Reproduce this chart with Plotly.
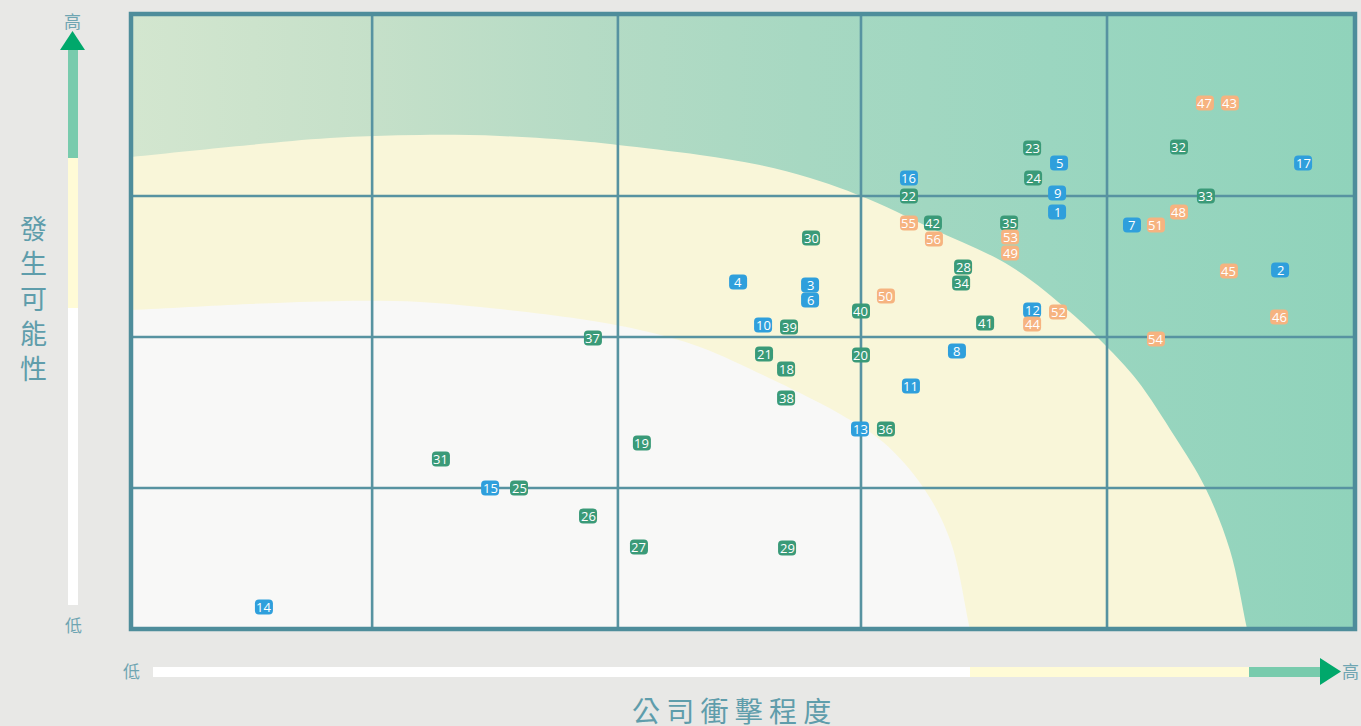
import plotly.graph_objects as go

# ---------------- data (impact x, likelihood y) ----------------
blue_ids = [1, 2, 3, 4, 5, 6, 7, 8, 9, 10, 11, 12, 13, 14, 15, 16, 17]
blue_x = [3.783, 4.694, 2.774, 2.480, 3.791, 2.774, 4.089, 3.374, 3.783, 2.582,
          3.186, 3.681, 2.978, 0.543, 1.467, 3.178, 4.788]
blue_y = [2.882, 2.481, 2.377, 2.398, 3.220, 2.274, 2.792, 1.921, 3.013, 2.101,
          1.679, 2.205, 1.382, 0.152, 0.974, 3.117, 3.220]

green_ids = [18, 19, 20, 21, 22, 23, 24, 25, 26, 27, 28, 29, 30, 31, 32, 33, 34,
             35, 36, 37, 38, 39, 40, 41, 42]
green_x = [2.676, 2.087, 2.982, 2.586, 3.178, 3.681, 3.685, 1.585, 1.867, 2.075,
           3.399, 2.680, 2.778, 1.266, 4.281, 4.391, 3.391, 3.587, 3.084, 1.887,
           2.676, 2.688, 2.982, 3.489, 3.276]
green_y = [1.797, 1.285, 1.894, 1.900, 2.992, 3.324, 3.117, 0.974, 0.781, 0.567,
           2.502, 0.560, 2.702, 1.175, 3.331, 2.992, 2.391, 2.806, 1.382, 2.011,
           1.596, 2.087, 2.198, 2.115, 2.806]

orange_ids = [43, 44, 45, 46, 47, 48, 49, 50, 51, 52, 53, 54, 55, 56]
orange_x = [4.489, 3.681, 4.485, 4.690, 4.387, 4.281, 3.591, 3.084, 4.187, 3.787,
            3.591, 4.187, 3.178, 3.280]
orange_y = [3.635, 2.108, 2.474, 2.156, 3.635, 2.882, 2.598, 2.301, 2.792, 2.191,
            2.709, 2.004, 2.806, 2.695]

# grid positions
grid_x = [0.985, 1.989, 2.982, 3.987]
grid_y = [0.974, 2.018, 2.992]
X_MAX, Y_MAX = 5.0, 4.25

# zone boundaries (decoration)
green_bx = [-0.25, 0.0, 0.486, 0.813, 1.181, 1.507, 1.834, 1.989, 2.324, 2.569, 2.774,
            2.982, 3.276, 3.591, 3.836, 3.979, 4.109, 4.265, 4.387, 4.489, 4.559, 4.597]
green_by = [3.219, 3.262, 3.345, 3.393, 3.414, 3.407, 3.372, 3.345, 3.276, 3.207, 3.117,
            2.992, 2.764, 2.509, 2.191, 1.963, 1.721, 1.327, 0.981, 0.546, 0.0, -0.3]
white_bx = [-0.25, 0.0, 0.486, 0.866, 1.181, 1.426, 1.834, 2.079, 2.324, 2.598, 2.733,
            2.896, 3.072, 3.235, 3.346, 3.427, 3.467]
white_by = [2.195, 2.205, 2.246, 2.267, 2.260, 2.225, 2.142, 2.066, 1.949, 1.742, 1.631,
            1.486, 1.292, 0.981, 0.615, 0.0, -0.3]

COL_BLUE = "#2f9fdc"
COL_GREEN = "#3a9a78"
COL_ORANGE = "#f6b380"
GRID = "#5793a1"
BORDER = "#4e8d9b"
TXT = "#5f9dab"

W, H = 1361, 726
L, R, T, B = 131, 6, 14, 97
PW, PH = W - L - R, H - T - B
xpp = X_MAX / PW
ypp = Y_MAX / PH


def px(xp):
    return (xp - L) / PW


def py(yp):
    return (H - B - yp) / PH


fig = go.Figure()

# green zone with gradient
gx = green_bx + [6.0, 6.0, -1.0, -1.0]
gy = green_by + [-1.0, 5.5, 5.5, 3.2]
fig.add_trace(go.Scatter(
    x=gx, y=gy, mode="lines", fill="toself",
    line=dict(width=0, shape="spline", smoothing=1),
    fillgradient=dict(type="horizontal", start=0, stop=X_MAX,
                      colorscale=[[0, "#d3e6cf"], [0.2, "#c5e0c9"], [0.37, "#b5dbc5"],
                                  [0.55, "#a7d8c2"], [0.75, "#9bd6c0"], [1, "#90d3bb"]]),
    hoverinfo="skip", showlegend=False))

# white zone
wx = white_bx + [-1.0, -1.0]
wy = white_by + [-1.0, 2.19]
fig.add_trace(go.Scatter(
    x=wx, y=wy, mode="lines", fill="toself", fillcolor="#f8f8f7",
    line=dict(width=0, shape="spline", smoothing=1),
    hoverinfo="skip", showlegend=False))

# grid lines
lx, ly = [], []
for g in grid_x:
    lx += [g, g, None]
    ly += [0, Y_MAX, None]
for g in grid_y:
    lx += [0, X_MAX, None]
    ly += [g, g, None]
fig.add_trace(go.Scatter(x=lx, y=ly, mode="lines", line=dict(color=GRID, width=2.6),
                         hoverinfo="skip", showlegend=False))

shapes = []
annotations = []


def rrect(cx, cy, color):
    hw, hh = 9 * xpp, 7.5 * ypp
    rx, ry = 4 * xpp, 4 * ypp
    x0, x1, y0, y1 = cx - hw, cx + hw, cy - hh, cy + hh
    p = (f"M {x0+rx},{y0} L {x1-rx},{y0} Q {x1},{y0} {x1},{y0+ry} "
         f"L {x1},{y1-ry} Q {x1},{y1} {x1-rx},{y1} L {x0+rx},{y1} "
         f"Q {x0},{y1} {x0},{y1-ry} L {x0},{y0+ry} Q {x0},{y0} {x0+rx},{y0} Z")
    return dict(type="path", path=p, xref="x", yref="y", fillcolor=color,
                line=dict(width=0), layer="above")


for ids, xs, ys, col in [(blue_ids, blue_x, blue_y, COL_BLUE),
                         (green_ids, green_x, green_y, COL_GREEN),
                         (orange_ids, orange_x, orange_y, COL_ORANGE)]:
    for i, x, y in zip(ids, xs, ys):
        shapes.append(rrect(x, y, col))
        annotations.append(dict(x=x, y=y, xref="x", yref="y", text=str(i), showarrow=False,
                                font=dict(family="Open Sans", size=13, color="white")))

# plot border
shapes.append(dict(type="rect", xref="paper", yref="paper", x0=0, y0=0, x1=1, y1=1,
                   line=dict(color=BORDER, width=4.5), layer="above"))


def prect(x0, y0, x1, y1, color):
    return dict(type="rect", xref="paper", yref="paper", x0=px(x0), x1=px(x1),
                y0=py(y0), y1=py(y1), fillcolor=color, line=dict(width=0), layer="above")


def ppath(pts, color):
    d = "M " + " L ".join(f"{px(a)},{py(b)}" for a, b in pts) + " Z"
    return dict(type="path", path=d, xref="paper", yref="paper", fillcolor=color,
                line=dict(width=0), layer="above")


# vertical arrow (likelihood)
shapes += [prect(68, 308, 78, 605, "#ffffff"),
           prect(68, 158, 78, 308, "#fffbd6"),
           prect(68, 49, 78, 158, "#78cbad"),
           ppath([(60, 50), (85, 50), (72.5, 31)], "#00a86b")]
# horizontal arrow (impact)
shapes += [prect(153, 667, 970, 677, "#ffffff"),
           prect(970, 667, 1249, 677, "#fffbd6"),
           prect(1249, 667, 1321, 677, "#78cbad"),
           ppath([(1320, 658), (1320, 685), (1341, 671.5)], "#00a86b")]


def ptext(x, y, text, size, color=TXT):
    annotations.append(dict(x=px(x), y=py(y), xref="paper", yref="paper", text=text,
                            showarrow=False, xanchor="center", yanchor="middle",
                            font=dict(family="Noto Sans CJK TC", size=size, color=color)))


ptext(72, 20, "高", 17, "#6fa5b2")
ptext(73, 624, "低", 17, "#6fa5b2")
ptext(131, 670, "低", 17, "#6fa5b2")
ptext(1350, 670, "高", 17, "#6fa5b2")
ptext(33, 297, "發<br>生<br>可<br>能<br>性", 27)
ptext(731, 710, " ".join("公司衝擊程度"), 28)

fig.update_layout(
    width=W, height=H,
    margin=dict(l=L, r=R, t=T, b=B),
    paper_bgcolor="#e8e8e6",
    plot_bgcolor="#f9f6d9",
    xaxis=dict(range=[0, X_MAX], showgrid=False, zeroline=False, showticklabels=False,
               showline=False, fixedrange=True),
    yaxis=dict(range=[0, Y_MAX], showgrid=False, zeroline=False, showticklabels=False,
               showline=False, fixedrange=True),
    shapes=shapes, annotations=annotations, showlegend=False,
)

fig.write_html("out.html",
               config={"displayModeBar": False},
               post_script="document.body.style.margin='0px';"
                           "document.body.style.background='#e8e8e6';"
                           "document.body.style.overflow='hidden';")
